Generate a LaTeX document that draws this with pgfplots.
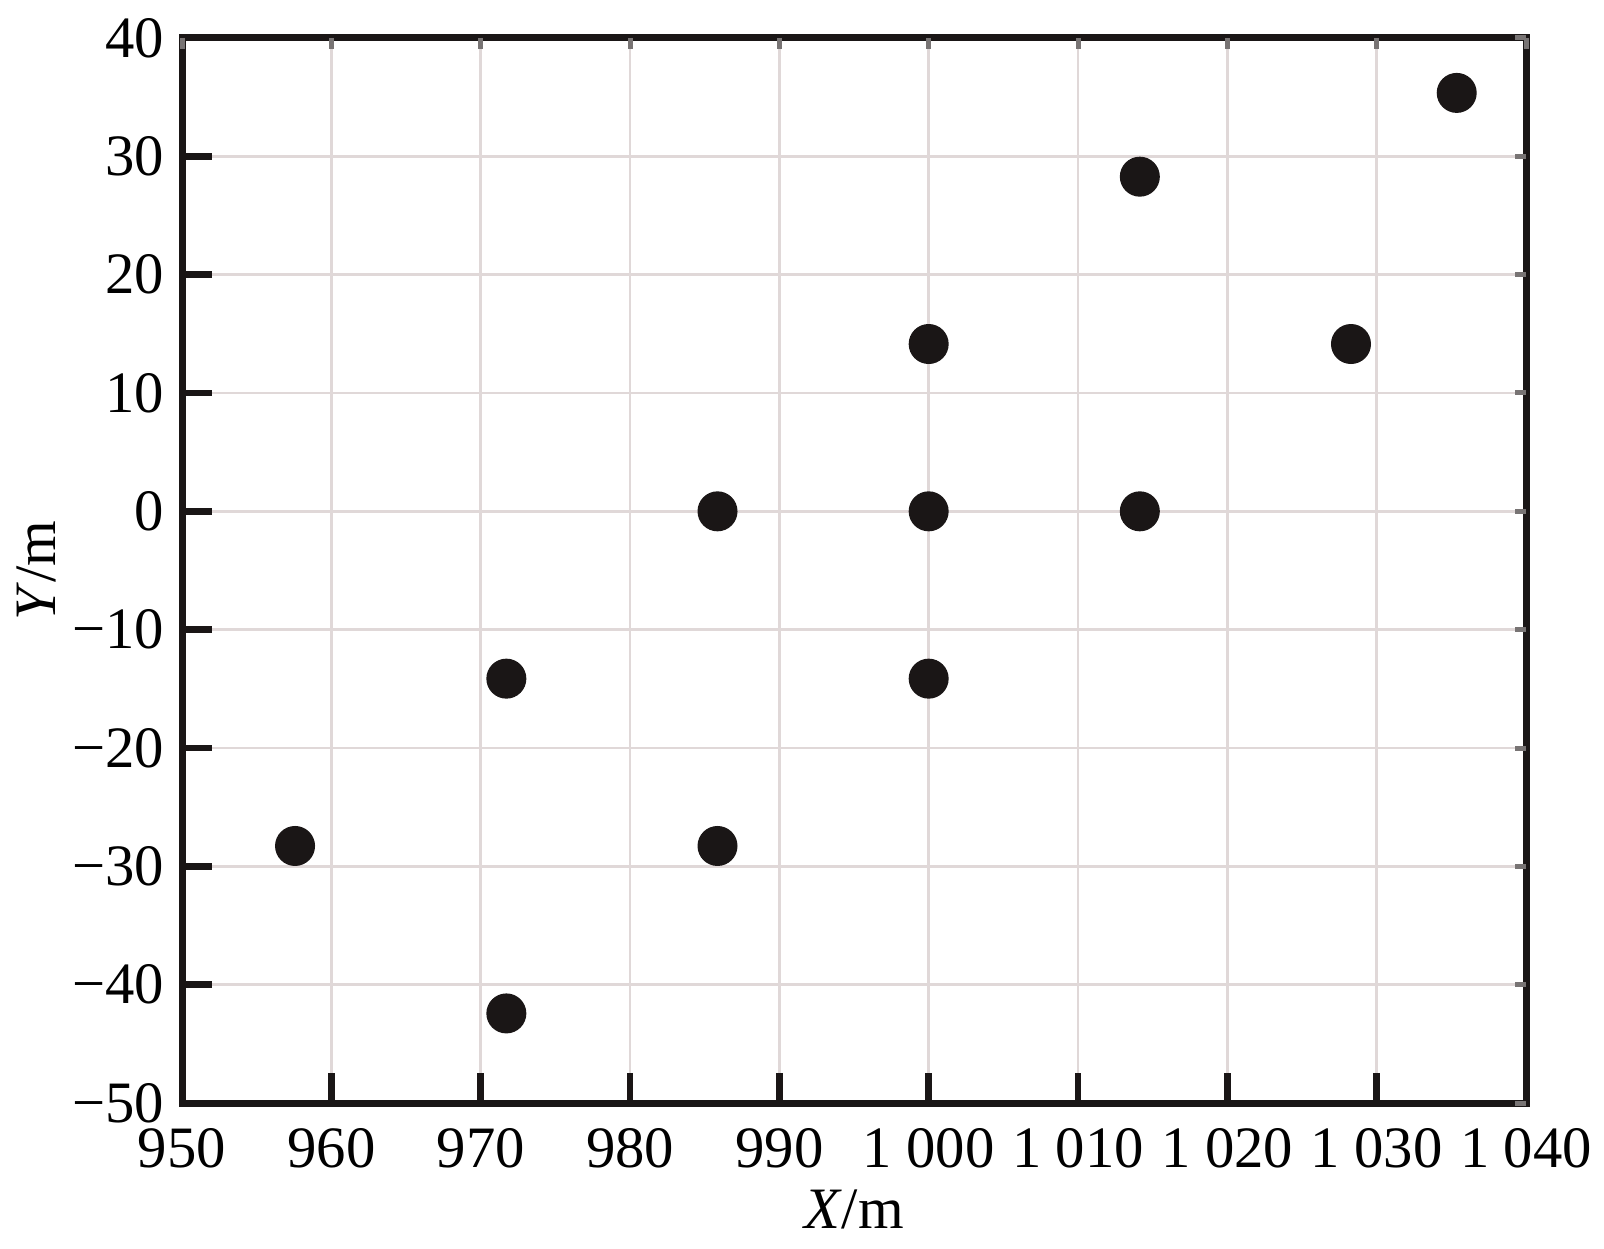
\documentclass[border=0pt]{standalone}
\usepackage{fontspec}
\setmainfont{Liberation Serif}
\usepackage{pgfplots}
\pgfplotsset{compat=1.18}
\definecolor{gridc}{RGB}{224,216,216}
\definecolor{dotc}{RGB}{26,22,22}
\definecolor{framec}{RGB}{26,22,22}
\definecolor{tickc}{RGB}{120,116,116}

\begin{document}
\begin{tikzpicture}
\useasboundingbox (-54.6pt,-43.5pt) rectangle (426.6pt,330.9pt);
\begin{axis}[
  at={(0,0)}, anchor=south west,
  scale only axis, width=403.2pt, height=319.5pt,
  xmin=950, xmax=1040, ymin=-50, ymax=40,
  xtick={950,960,...,1040}, ytick={-50,-40,...,40},
  xticklabels={950,960,970,980,990,1 000,1 010,1 020,1 030,1 040},
  yticklabels={−50,−40,−30,−20,−10,0,10,20,30,40},
  xtick pos=bottom, ytick pos=left,
  tick align=inside,
  major tick length=9pt,
  tick style={line width=2pt, color=framec},
  axis line style={line width=2.1pt, color=framec, line cap=rect},
  grid=major,
  major grid style={line width=0.8pt, color=gridc},
  tick label style={font=\fontsize{17.6}{20}\selectfont},
  label style={font=\fontsize{17.6}{20}\selectfont},
  xticklabel style={anchor=base, inner sep=0pt, yshift=-19.4pt},
  yticklabel style={anchor=east, inner sep=0pt, xshift=-5.2pt},
  xlabel={\textit{X}/m}, ylabel={\textit{Y}/m},
  xlabel style={at={(axis description cs:0.5,-0.1174)}, anchor=base, inner sep=0pt},
  ylabel style={at={(axis description cs:-0.09375,0.5)}, anchor=base, inner sep=0pt},
  clip=false,
]
\addplot[only marks, mark=*, mark size=5.8pt, mark options={fill=dotc, draw=dotc}] coordinates {
  (957.57,-28.28)
  (971.72,-42.43)
  (971.72,-14.14)
  (985.86,0)
  (985.86,-28.28)
  (1000,14.14)
  (1000,0)
  (1000,-14.14)
  (1014.14,28.28)
  (1014.14,0)
  (1028.28,14.14)
  (1035.36,35.36)
};
\end{axis}
\begin{axis}[
  at={(0,0)}, anchor=south west,
  scale only axis, width=403.2pt, height=319.5pt,
  xmin=950, xmax=1040, ymin=-50, ymax=40,
  xtick={950,960,...,1040}, ytick={-50,-40,...,40},
  xticklabels={}, yticklabels={},
  xtick pos=top, ytick pos=right,
  tick align=inside,
  major tick length=3.3pt,
  tick style={line width=1.5pt, color=tickc},
  axis line style={draw=none},
]
\end{axis}
\end{tikzpicture}
\end{document}
